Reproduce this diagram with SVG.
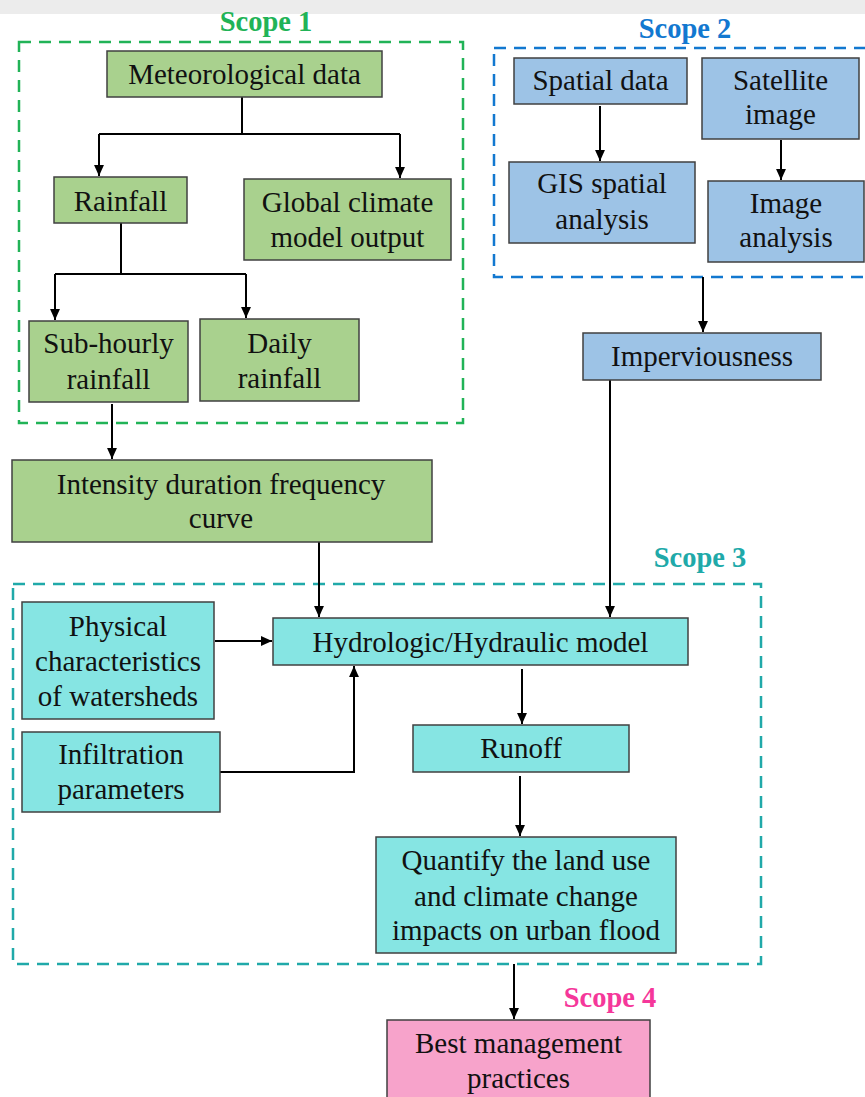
<svg xmlns="http://www.w3.org/2000/svg" width="865" height="1097" viewBox="0 0 865 1097">
<style>
.t{font-family:"Liberation Serif","Times New Roman",serif;font-size:29px;fill:#111;text-anchor:middle}
.s{font-family:"Liberation Serif","Times New Roman",serif;font-size:28.5px;font-weight:bold;text-anchor:middle}
.g rect{fill:#a9d18e;stroke:#404040;stroke-width:1.5}
.b rect{fill:#9dc3e6;stroke:#404040;stroke-width:1.5}
.c rect{fill:#86e5e3;stroke:#404040;stroke-width:1.5}
.p rect{fill:#f7a3cb;stroke:#404040;stroke-width:1.5}
.scope{fill:none;stroke-width:2.5;stroke-dasharray:12 8}
#connectors path{fill:none;stroke:#000;stroke-width:2}
</style>
<defs>
<marker id="ah" markerUnits="userSpaceOnUse" markerWidth="11" markerHeight="11" viewBox="0 0 10 10" refX="10" refY="5" orient="auto">
<path d="M0,0.5 L10,5 L0,9.5 Z" fill="#000"/>
</marker>
</defs>
<rect x="0" y="0" width="865" height="1097" fill="#fff"/>
<rect x="0" y="0" width="865" height="14" fill="#ececec"/>

<g id="scopes">
<rect class="scope" x="19" y="42" width="444" height="381" stroke="#21b357"/>
<text class="s" x="266" y="31" fill="#21b357">Scope 1</text>
<rect class="scope" x="494" y="48" width="380" height="229" stroke="#1278d0"/>
<text class="s" x="685" y="38" fill="#1278d0">Scope 2</text>
<rect class="scope" x="13" y="584" width="748" height="380" stroke="#20a9a9"/>
<text class="s" x="700" y="567" fill="#20a9a9">Scope 3</text>
<text class="s" x="610" y="1007" fill="#f5379a">Scope 4</text>
</g>

<g id="connectors">
<path d="M242,97 V134 M99,134 H400"/>
<path d="M99,134 V176" marker-end="url(#ah)"/>
<path d="M400,134 V178" marker-end="url(#ah)"/>
<path d="M121,223 V274 M55,274 H246"/>
<path d="M55,274 V320" marker-end="url(#ah)"/>
<path d="M246,274 V318" marker-end="url(#ah)"/>
<path d="M112,404 V459" marker-end="url(#ah)"/>
<path d="M600,106 V161" marker-end="url(#ah)"/>
<path d="M781,140 V180" marker-end="url(#ah)"/>
<path d="M703,277 V332" marker-end="url(#ah)"/>
<path d="M610,380 V617" marker-end="url(#ah)"/>
<path d="M319,542 V617" marker-end="url(#ah)"/>
<path d="M215,641 H272" marker-end="url(#ah)"/>
<path d="M220,772 H354 V666" marker-end="url(#ah)"/>
<path d="M522,669 V724" marker-end="url(#ah)"/>
<path d="M520,776 V836" marker-end="url(#ah)"/>
<path d="M514,964 V1019" marker-end="url(#ah)"/>
</g>

<g id="met" class="g"><rect x="107" y="51" width="275" height="46"/><text class="t" x="244.5" y="84">Meteorological data</text></g>
<g id="rainfall" class="g"><rect x="54" y="177" width="133" height="46"/><text class="t" x="120.5" y="211">Rainfall</text></g>
<g id="gcm" class="g"><rect x="244" y="179" width="207" height="81"/><text class="t" x="347.5" y="212">Global climate</text><text class="t" x="347.5" y="247">model output</text></g>
<g id="subhourly" class="g"><rect x="29" y="321" width="159" height="81"/><text class="t" x="108.5" y="353">Sub-hourly</text><text class="t" x="108.5" y="389">rainfall</text></g>
<g id="daily" class="g"><rect x="200" y="319" width="159" height="82"/><text class="t" x="279.5" y="353">Daily</text><text class="t" x="279.5" y="388">rainfall</text></g>
<g id="idf" class="g"><rect x="12" y="460" width="420" height="82"/><text class="t" x="221" y="494">Intensity duration frequency</text><text class="t" x="221" y="528">curve</text></g>

<g id="spatial" class="b"><rect x="514" y="58" width="173" height="46"/><text class="t" x="600.5" y="90">Spatial data</text></g>
<g id="satellite" class="b"><rect x="702" y="58" width="157" height="81"/><text class="t" x="780.5" y="90">Satellite</text><text class="t" x="780.5" y="124">image</text></g>
<g id="gis" class="b"><rect x="509" y="162" width="186" height="81"/><text class="t" x="602" y="193">GIS spatial</text><text class="t" x="602" y="229">analysis</text></g>
<g id="imageanalysis" class="b"><rect x="708" y="181" width="156" height="81"/><text class="t" x="786" y="213">Image</text><text class="t" x="786" y="247">analysis</text></g>
<g id="imperv" class="b"><rect x="583" y="333" width="238" height="47"/><text class="t" x="702" y="366">Imperviousness</text></g>

<g id="hydro" class="c"><rect x="273" y="618" width="415" height="47"/><text class="t" x="480.5" y="652">Hydrologic/Hydraulic model</text></g>
<g id="physical" class="c"><rect x="22" y="602" width="192" height="117"/><text class="t" x="118" y="636">Physical</text><text class="t" x="118" y="671">characteristics</text><text class="t" x="118" y="706">of watersheds</text></g>
<g id="infiltration" class="c"><rect x="22" y="732" width="198" height="80"/><text class="t" x="121" y="764">Infiltration</text><text class="t" x="121" y="799">parameters</text></g>
<g id="runoff" class="c"><rect x="413" y="725" width="216" height="47"/><text class="t" x="521" y="758">Runoff</text></g>
<g id="quantify" class="c"><rect x="376" y="837" width="300" height="116"/><text class="t" x="526" y="870">Quantify the land use</text><text class="t" x="526" y="906">and climate change</text><text class="t" x="526" y="940">impacts on urban flood</text></g>

<g id="bmp" class="p"><rect x="387" y="1020" width="263" height="90"/><text class="t" x="518.5" y="1053">Best management</text><text class="t" x="518.5" y="1088">practices</text></g>
</svg>
